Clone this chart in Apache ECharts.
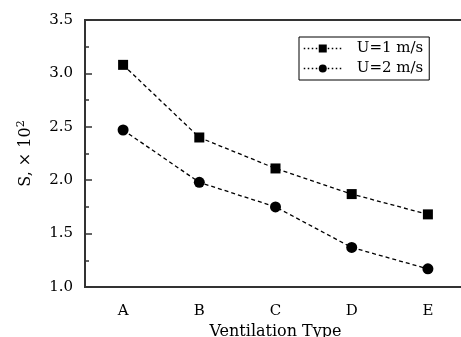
<!DOCTYPE html>
<html>
<head>
<meta charset="utf-8">
<script src="https://cdn.jsdelivr.net/npm/echarts@6/dist/echarts.min.js"></script>
<style>
  html, body { margin: 0; padding: 0; background: #fff; }
</style>
</head>
<body>
<div id="container" style="width: 461px; height: 337px"></div>
<script>
const categories = ["A", "B", "C", "D", "E"];
const seriesNames = ["U=1 m/s", "U=2 m/s"];
const u1Values = [3.08, 2.40, 2.11, 1.87, 1.68];
const u2Values = [2.47, 1.98, 1.75, 1.37, 1.17];

const font = "DejaVu Serif";
const chart = echarts.init(document.getElementById("container"));

const option = {
  backgroundColor: "#fff",
  animation: false,
  grid: {
    left: 85,
    top: 20,
    width: 381,
    height: 267,
    outerBoundsMode: "none",
    show: true,
    borderColor: "#333",
    borderWidth: 2
  },
  legend: {
    orient: "vertical",
    left: 299,
    top: 37,
    data: seriesNames,
    itemWidth: 38,
    itemHeight: 10,
    itemGap: 5,
    padding: [4, 6, 4, 4],
    borderColor: "#000",
    borderWidth: 1,
    lineStyle: { type: [1.5, 2.5], width: 1.5, color: "#000" },
    textStyle: { fontFamily: font, fontSize: 15, color: "#000", padding: [0, 0, 0, 10] }
  },
  xAxis: [
    {
      type: "category",
      data: categories,
      boundaryGap: true,
      name: "Ventilation Type",
      nameLocation: "middle",
      nameGap: 34,
      nameTextStyle: { fontFamily: font, fontSize: 16, color: "#000" },
      axisLine: { lineStyle: { color: "#333", width: 2 } },
      axisTick: { inside: true, alignWithLabel: true, length: 7, lineStyle: { color: "#333", width: 1.5 } },
      axisLabel: { fontFamily: font, fontSize: 15, color: "#000", margin: 17 }
    },
    {
      type: "category",
      data: categories,
      position: "bottom",
      boundaryGap: true,
      axisLine: { show: false },
      axisTick: { inside: true, length: 4, lineStyle: { color: "#333", width: 1.5 } },
      axisLabel: { show: false }
    }
  ],
  yAxis: {
    type: "value",
    min: 1,
    max: 3.5,
    interval: 0.5,
    name: "{s|S, × 10}{sup|2}",
    nameLocation: "middle",
    nameGap: 50,
    nameRotate: 90,
    nameTextStyle: {
      rich: {
        s: { fontFamily: font, fontSize: 16, color: "#000" },
        sup: { fontFamily: font, fontSize: 11, color: "#000", verticalAlign: "top", padding: [0, 0, 8, 0] }
      }
    },
    axisLine: { show: true, lineStyle: { color: "#333", width: 2 } },
    axisTick: { show: true, inside: true, length: 7, lineStyle: { color: "#333", width: 1.5 } },
    minorTick: { show: true, splitNumber: 2, length: 4, lineStyle: { color: "#333", width: 1.5 } },
    splitLine: { show: false },
    axisLabel: {
      fontFamily: font,
      fontSize: 15,
      color: "#000",
      margin: 12,
      formatter: function (v) { return v.toFixed(1); }
    }
  },
  series: [
    {
      name: seriesNames[0],
      type: "line",
      data: u1Values,
      symbol: "rect",
      symbolSize: 10,
      itemStyle: { color: "#000" },
      lineStyle: { color: "#000", width: 1.3, type: [4, 3] }
    },
    {
      name: seriesNames[1],
      type: "line",
      data: u2Values,
      symbol: "circle",
      symbolSize: 11,
      itemStyle: { color: "#000" },
      lineStyle: { color: "#000", width: 1.3, type: [4, 3] }
    }
  ]
};
chart.setOption(option);
</script>
</body>
</html>
